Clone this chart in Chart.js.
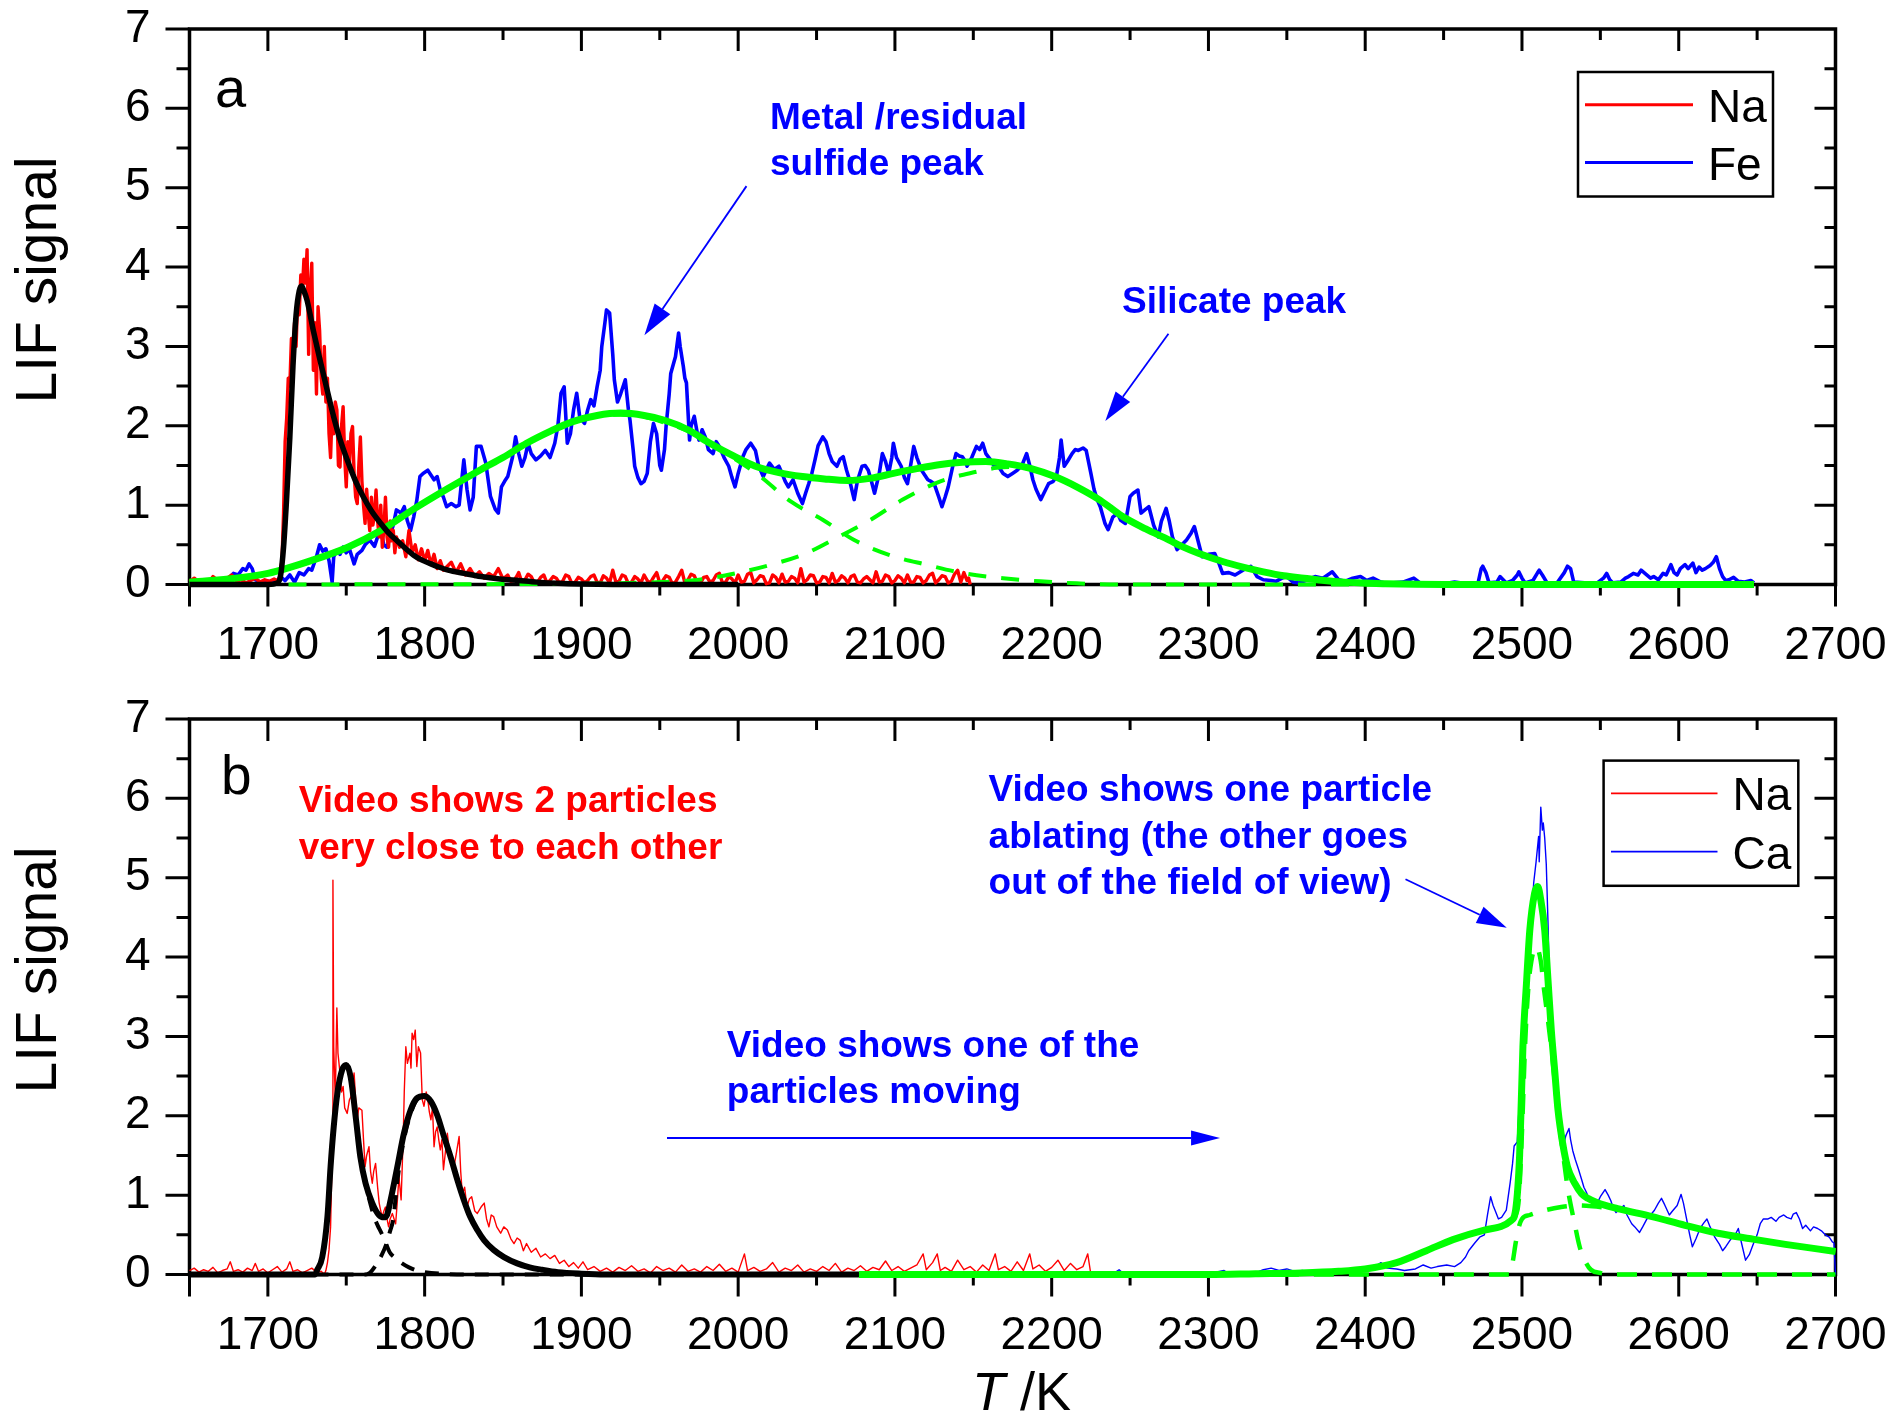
<!DOCTYPE html>
<html>
<head>
<meta charset="utf-8">
<script src="https://cdn.jsdelivr.net/npm/chart.js@4.4.1/dist/chart.umd.min.js"></script>
<style>
  html, body { margin: 0; padding: 0; background: #fff; }
  .panel { position: absolute; left: 0; width: 1895px; }
  #wrapA { top: 0; height: 680px; }
  #wrapB { top: 680px; height: 734px; }
</style>
</head>
<body>
<div class="panel" id="wrapA"><canvas id="chartA"></canvas></div>
<div class="panel" id="wrapB"><canvas id="chartB"></canvas></div>
<script>
// axis ticks
const xTicks = [1700, 1800, 1900, 2000, 2100, 2200, 2300, 2400, 2500, 2600, 2700];
const yTicks = [0, 1, 2, 3, 4, 5, 6, 7];

// ---- panel a: LIF signal vs T, [T, signal] ----
const naA = [[1650,.04],[1653,.08],[1656,.03],[1659,.06],[1662,.02],[1665,.10],[1668,.05],[1671,.03],[1674,.08],[1677,.12],[1680,.04],[1683,.06],[1686,.02],[1689,.05],[1692,.08],[1695,.03],[1698,.06],[1701,.04],[1704,.07],[1706,.05],
  [1707,.05],[1709,.30],[1710,.90],[1711,1.8],[1712,2.1],[1713,2.6],[1714,2.5],[1715,3.1],[1716,2.9],[1717,3.3],[1718,3.0],[1719,3.6],[1720,3.4],[1721,3.9],[1722,3.7],[1723,4.1],[1724,3.8],[1725,4.22],[1726,2.9],[1727,3.7],[1728,4.05],[1729,2.7],[1730,3.3],[1731,2.4],[1732,3.5],[1733,3.2],[1734,2.6],[1735,2.4],[1736,3.0],[1737,2.3],[1738,2.6],[1739,1.9],[1740,1.6],[1741,2.2],[1742,1.9],[1743,2.3],[1744,2.2],[1745,1.5],[1746,1.48],[1747,2.0],[1748,2.24],[1749,1.6],[1750,1.23],[1751,1.8],[1752,1.5],[1753,1.9],[1754,1.99],[1755,1.4],[1756,1.1],[1757,1.02],[1758,1.5],[1759,1.86],[1760,1.3],[1761,1.0],[1762,.77],[1763,1.2],[1764,.9],[1765,.68],[1766,1.1],[1767,.75],[1768,.9],[1769,1.19],[1770,.8],[1771,.6],[1772,1.0],[1773,.47],[1774,.7],[1775,1.1],[1776,.6],[1777,.47],[1778,.8],[1779,.55],[1780,.68],[1781,.4],[1782,.6],[1784,.47],[1786,.55],[1788,.35],[1790,.68],[1792,.4],[1794,.5],[1796,.31],[1798,.45],[1800,.3],[1802,.43],[1804,.25],[1806,.38],[1808,.2],[1810,.3],[1812,.18],[1814,.22],[1817,.28],[1820,.15],[1823,.26],[1826,.12],[1829,.2],[1832,.1],[1835,.16],[1838,.08],[1841,.14],[1844,.1],[1847,.2],[1850,.07],
  [1853,.12],[1855,.04],[1857,.05],[1859,.11],[1860,.15],[1862,.03],[1864,.06],[1866,.13],[1868,.1],[1870,.02],[1872,.03],[1874,.09],[1876,.12],[1878,.02],[1880,.05],[1882,.1],[1884,.08],[1886,.02],[1888,.04],[1890,.12],[1892,.1],[1894,.01],[1896,.03],[1898,.09],[1900,.07],[1902,.02],[1904,.05],[1906,.1],[1908,.12],[1910,.03],[1912,.02],[1914,.11],[1916,.08],[1918,.02],[1920,.18],[1922,.03],[1924,.04],[1926,.12],[1928,.1],[1930,.01],[1932,.03],[1934,.1],[1936,.07],[1938,.02],[1940,.12],[1942,.05],[1944,.02],[1946,.09],[1948,.15],[1950,.02],[1952,.05],[1954,.11],[1956,.09],[1958,.01],[1960,.03],[1962,.1],[1964,.18],[1966,.02],[1968,.06],[1970,.13],[1972,.11],[1974,.02],[1976,.02],[1978,.09],[1980,.1],[1982,.03],[1984,.05],[1986,.12],[1988,.14],[1990,.02],[1992,.03],[1994,.1],[1996,.07],[1998,.02],[2000,.12],[2002,.03],[2004,.04],[2006,.13],[2008,.15],[2010,.02],[2012,.06],[2014,.11],[2016,.1],[2018,.01],[2020,.02],[2022,.12],[2024,.09],[2026,.02],[2028,.13],[2030,.03],[2032,.04],[2034,.1],[2036,.08],[2038,.02],[2040,.2],[2042,.03],[2044,.06],[2046,.12],[2048,.11],[2050,.02],[2052,.03],[2054,.1],[2056,.09],[2058,.02],[2060,.14],[2062,.03],[2064,.05],[2066,.11],[2068,.08],[2070,.02],[2072,.1],[2074,.12],[2076,.03],[2078,.02],[2080,.07],[2082,.1],[2084,.06],[2086,.02],[2088,.16],[2090,.03],[2092,.04],[2094,.12],[2096,.1],[2098,.02],[2100,.05],[2102,.11],[2104,.08],[2106,.02],[2108,.12],[2110,.03],[2112,.03],[2114,.1],[2116,.09],[2118,.02],[2120,.05],[2122,.12],[2124,.14],[2126,.02],[2128,.06],[2130,.11],[2132,.1],[2134,.02],[2136,.04],[2138,.13],[2140,.18],[2142,.03],[2144,.15],[2146,.05],[2147,.08],[2148,0]];

const feA = [[1650,.03],[1655,.04],[1660,.02],[1665,.05],[1670,.03],[1675,.08],[1678,.14],[1681,.12],[1684,.2],[1686,.18],[1688,.26],[1690,.2],[1692,.06],[1695,.03],[1700,.04],[1705,.02],[1708,.1],[1711,.05],[1714,.12],[1717,.03],[1720,.15],[1723,.12],[1726,.2],[1728,.18],[1731,.35],[1733,.5],[1735,.42],[1737,.45],[1739,.3],[1741,.03],[1742,.35],[1744,.43],[1746,.38],[1748,.47],[1750,.4],[1752,.45],[1755,.26],[1757,.38],[1760,.43],[1762,.5],[1765,.56],[1768,.48],[1770,.6],[1772,.68],[1774,.5],[1776,.47],[1778,.62],[1780,.75],[1782,.94],[1785,.9],[1787,.98],[1789,.8],[1791,.68],[1793,.85],[1795,1.06],[1797,1.36],[1799,1.4],[1802,1.44],[1804,1.38],[1806,1.32],[1808,1.36],[1810,1.19],[1812,1.1],[1814,.98],[1817,1.02],[1820,.98],[1822,1.0],[1825,1.57],[1827,1.2],[1829,.94],[1831,1.1],[1833,1.74],[1836,1.74],[1839,1.53],[1842,1.11],[1845,.95],[1847,.9],[1849,1.23],[1851,1.3],[1853,1.36],[1856,1.6],[1858,1.86],[1860,1.65],[1862,1.49],[1864,1.6],[1866,1.78],[1868,1.65],[1871,1.57],[1874,1.62],[1877,1.69],[1880,1.6],[1883,1.78],[1885,2.0],[1887,2.41],[1889,2.49],[1891,1.78],[1893,1.9],[1895,2.2],[1897,2.41],[1899,2.1],[1902,2.03],[1904,2.2],[1906,2.33],[1908,2.25],[1910,2.49],[1912,2.7],[1913,3.0],[1915,3.3],[1916,3.46],[1918,3.42],[1920,2.9],[1921,2.58],[1923,2.3],[1925,2.4],[1928,2.58],[1930,2.2],[1931,2.07],[1933,1.7],[1934,1.49],[1936,1.35],[1938,1.27],[1940,1.3],[1942,1.4],[1944,1.8],[1946,2.03],[1948,1.9],[1950,1.5],[1951,1.44],[1953,1.7],[1954,1.99],[1956,2.4],[1957,2.66],[1959,2.8],[1960,2.87],[1962,3.17],[1963,3.0],[1965,2.75],[1966,2.6],[1967,2.54],[1969,1.82],[1970,2.0],[1972,2.12],[1974,1.9],[1975,1.82],[1977,1.95],[1979,1.86],[1981,1.7],[1984,1.65],[1986,1.8],[1988,1.74],[1991,1.6],[1994,1.49],[1996,1.35],[1998,1.23],[2000,1.4],[2003,1.61],[2005,1.7],[2008,1.78],[2011,1.69],[2013,1.5],[2016,1.36],[2018,1.45],[2020,1.53],[2023,1.45],[2026,1.49],[2028,1.4],[2030,1.3],[2032,1.23],[2035,1.32],[2038,1.15],[2041,1.02],[2043,1.15],[2045,1.27],[2047,1.4],[2049,1.57],[2051,1.75],[2054,1.86],[2056,1.8],[2058,1.65],[2060,1.55],[2063,1.49],[2065,1.58],[2067,1.61],[2069,1.45],[2071,1.32],[2074,1.07],[2076,1.3],[2079,1.49],[2081,1.5],[2083,1.44],[2085,1.3],[2087,1.15],[2090,1.4],[2092,1.65],[2094,1.55],[2096,1.4],[2098,1.6],[2099,1.78],[2101,1.6],[2104,1.49],[2106,1.35],[2108,1.27],[2110,1.5],[2112,1.74],[2114,1.6],[2117,1.44],[2119,1.38],[2121,1.32],[2123,1.3],[2125,1.27],[2128,1.1],[2130,.98],[2132,1.1],[2134,1.23],[2137,1.5],[2139,1.65],[2141,1.62],[2143,1.61],[2145,1.55],[2146,1.49],[2149,1.6],[2152,1.74],[2154,1.7],[2156,1.78],[2158,1.65],[2161,1.57],[2163,1.5],[2166,1.49],[2169,1.4],[2172,1.36],[2175,1.4],[2178,1.44],[2181,1.5],[2184,1.65],[2186,1.5],[2188,1.32],[2190,1.2],[2193,1.07],[2195,1.15],[2198,1.27],[2201,1.3],[2203,1.36],[2205,1.6],[2206,1.82],[2208,1.49],[2210,1.55],[2213,1.65],[2215,1.7],[2217,1.69],[2220,1.72],[2222,1.69],[2225,1.4],[2227,1.2],[2229,1.07],[2231,.98],[2234,.77],[2236,.69],[2239,.85],[2242,.9],[2244,.81],[2247,.77],[2250,1.11],[2252,1.15],[2255,1.19],[2257,.9],[2260,.95],[2262,.98],[2265,.75],[2268,.6],[2270,.8],[2273,.96],[2275,.8],[2277,.6],[2280,.44],[2283,.5],[2286,.56],[2289,.65],[2291,.73],[2294,.5],[2296,.35],[2300,.38],[2304,.39],[2307,.25],[2309,.14],[2313,.15],[2317,.12],[2322,.18],[2327,.23],[2331,.1],[2335,.06],[2340,.05],[2343,.04],[2347,.08],[2350,.1],[2354,.03],[2358,.02],[2363,.06],[2368,.1],[2373,.08],[2379,.16],[2383,.06],[2387,.04],[2392,.08],[2397,.1],[2401,.05],[2405,.08],[2410,.03],[2413,.02],[2418,.02],[2424,.03],[2431,.08],[2435,.02],[2440,.02],[2450,.01],[2457,.03],[2465,.01],[2472,.02],[2474,.2],[2475,.23],[2477,.15],[2479,.02],[2484,.03],[2486,.1],[2488,.06],[2490,.02],[2494,.05],[2497,.12],[2498,.16],[2500,.08],[2502,.02],[2507,.05],[2510,.15],[2511,.18],[2513,.12],[2516,.02],[2522,.01],[2527,.15],[2529,.23],[2531,.2],[2533,.03],[2540,.02],[2548,.02],[2552,.08],[2554,.14],[2556,.06],[2558,.02],[2563,.03],[2566,.08],[2568,.1],[2571,.14],[2574,.12],[2576,.18],[2579,.13],[2582,.08],[2584,.1],[2587,.06],[2590,.14],[2592,.12],[2595,.25],[2597,.15],[2599,.12],[2601,.2],[2604,.25],[2606,.2],[2609,.27],[2611,.15],[2613,.22],[2615,.18],[2617,.2],[2620,.24],[2622,.28],[2624,.35],[2626,.2],[2628,.1],[2630,.05],[2632,.06],[2635,.09],[2638,.04],[2642,.03],[2646,.05],[2648,.02]];

// fits, panel a
const naFitA = [[1650,0],[1700,0],[1706,.02],[1708,.1],[1710,.47],[1712,1.1],[1714,1.85],[1716,2.75],[1718,3.4],[1720,3.7],[1721.5,3.76],[1723,3.7],[1725,3.58],[1729,3.2],[1733,2.85],[1736,2.6],[1742,2.11],[1746,1.83],[1751,1.55],[1756,1.3],[1761,1.1],[1766,.93],[1772,.77],[1777,.65],[1783,.54],[1788,.45],[1793,.37],[1798,.31],[1804,.26],[1809,.22],[1815,.18],[1825,.14],[1836,.1],[1848,.07],[1860,.05],[1872,.03],[1885,.015],[1900,.005],[1920,0],[2000,0]];
const feFitA = [[1650,.03],[1675,.07],[1700,.14],[1729,.31],[1751,.47],[1772,.68],[1793,.95],[1814,1.2],[1836,1.45],[1850,1.6],[1865,1.78],[1880,1.93],[1894,2.05],[1910,2.13],[1925,2.16],[1940,2.13],[1953,2.07],[1968,1.95],[1982,1.78],[1997,1.62],[2011,1.49],[2026,1.41],[2041,1.36],[2055,1.33],[2070,1.31],[2085,1.34],[2099,1.4],[2114,1.46],[2128,1.51],[2143,1.54],[2158,1.55],[2172,1.52],[2187,1.46],[2202,1.36],[2216,1.23],[2231,1.06],[2245,.86],[2260,.7],[2275,.56],[2283,.48],[2294,.39],[2309,.29],[2322,.22],[2335,.16],[2348,.11],[2361,.08],[2374,.05],[2387,.03],[2400,.02],[2413,.01],[2450,0],[2648,0]];
const metalPeakA = [[1650,.03],[1675,.07],[1700,.14],[1729,.31],[1751,.47],[1772,.68],[1793,.95],[1814,1.2],[1836,1.45],[1850,1.6],[1865,1.78],[1880,1.93],[1894,2.04],[1910,2.12],[1925,2.14],[1940,2.11],[1953,2.04],[1969.6,1.92],[1992.4,1.65],[2012.9,1.38],[2034,1.04],[2054.4,.81],[2074,.56],[2096.8,.37],[2120,.25],[2144.4,.14],[2169,.08],[2192.7,.04],[2216,.015],[2242,0],[2648,0]];
const silicatePeakA = [[1650,0],[1850,.005],[1900,.01],[1950,.03],[1975,.06],[1998,.14],[2021,.25],[2043,.39],[2064,.6],[2084,.81],[2105,1.07],[2129,1.3],[2152,1.42],[2165,1.47],[2178,1.48],[2187,1.45],[2202,1.36],[2216,1.23],[2231,1.06],[2245,.86],[2260,.7],[2275,.56],[2283,.48],[2294,.39],[2309,.29],[2322,.22],[2335,.16],[2348,.11],[2361,.08],[2374,.05],[2387,.03],[2400,.02],[2413,.01],[2450,0],[2648,0]];

// ---- panel b ----
const naB = [[1650,.05],[1653,.08],[1656,.03],[1659,.06],[1662,.04],[1665,.09],[1668,.02],[1671,.05],[1674,.07],[1676,.16],[1678,.04],[1681,.06],[1684,.03],[1687,.08],[1690,.05],[1692,.14],[1694,.04],[1697,.07],[1700,.02],[1703,.06],[1706,.1],[1709,.03],[1712,.07],[1714,.16],[1716,.04],[1719,.06],[1722,.02],[1725,.05],[1728,.08],[1731,.03],[1734,.04],[1736,0],[1737,.05],[1738,.15],[1739,.31],[1740,.6],[1741,1.5],[1741.5,4.97],[1742,2.87],[1743,2.2],[1744,3.36],[1744.7,2.79],[1746,2.54],[1747,2.3],[1748,2.37],[1749,2.1],[1750.6,2.03],[1752,2.2],[1753,2.24],[1754,2.4],[1755,2.54],[1756,2.2],[1757,1.95],[1758,2.1],[1760,2.07],[1761,1.7],[1762,1.36],[1763,1.5],[1764.5,1.61],[1765.5,1.3],[1766.6,1.15],[1767.5,1.3],[1768.7,1.4],[1770,1.1],[1771,.9],[1772,.8],[1773,.73],[1774,.8],[1775,.85],[1776,.7],[1777,.6],[1778,.7],[1779.4,.77],[1780.5,.7],[1781.5,.64],[1782.5,.9],[1783.6,1.23],[1785,.94],[1786.4,1.78],[1787,2.3],[1788,2.87],[1789,2.66],[1790.6,2.79],[1791.3,2.6],[1792,3.04],[1793,2.96],[1794,3.08],[1795,2.62],[1796,2.87],[1797.4,2.79],[1798.5,2.2],[1799.6,2.12],[1801,2.3],[1802,2.2],[1803,2.05],[1804,1.95],[1805,2.1],[1806,1.61],[1807,1.8],[1808,1.86],[1809,1.7],[1810,1.57],[1811,1.7],[1812,1.32],[1813,1.5],[1814.5,1.78],[1815.5,1.6],[1816.6,1.53],[1818,1.45],[1818.7,1.36],[1820,1.5],[1822,1.74],[1823,1.3],[1824,1.02],[1825.5,1.1],[1827,.85],[1828.5,.95],[1830,.98],[1832,.8],[1833.6,.77],[1836,.85],[1838,.9],[1839.5,.7],[1841,.6],[1842.5,.75],[1844,.73],[1846,.6],[1848.5,.52],[1850.5,.6],[1852.8,.56],[1855,.45],[1857,.39],[1859,.46],[1861,.43],[1863,.3],[1865,.39],[1868,.28],[1871,.33],[1874,.22],[1877,.26],[1880,.2],[1883,.24],[1886,.14],[1889,.18],[1892,.1],[1895,.15],[1898,.08],[1901,.16],[1904,.06],
  [1908,.1],[1912,.04],[1916,.08],[1920,.03],[1924,.09],[1928,.05],[1932,.11],[1936,.04],[1940,.07],[1944,.02],[1948,.1],[1952,.05],[1956,.08],[1960,.03],[1964,.12],[1968,.04],[1972,.07],[1976,.03],[1980,.1],[1984,.05],[1988,.13],[1992,.04],[1996,.08],[2000,.03],[2004,.26],[2006,.05],[2010,.09],[2014,.04],[2018,.07],[2022,.15],[2026,.03],[2030,.08],[2034,.05],[2038,.12],[2042,.03],[2046,.07],[2050,.04],[2054,.1],[2058,.05],[2062,.14],[2066,.03],[2070,.08],[2074,.05],[2078,.11],[2082,.04],[2086,.09],[2090,.06],[2094,.17],[2098,.05],[2102,.1],[2106,.04],[2110,.08],[2114,.12],[2118,.26],[2120,.06],[2124,.15],[2127,.26],[2129,.05],[2132,.09],[2136,.04],[2140,.18],[2144,.06],[2148,.1],[2152,.03],[2156,.12],[2160,.05],[2164,.26],[2166,.06],[2170,.1],[2174,.04],[2178,.16],[2182,.05],[2186,.26],[2188,.07],[2192,.12],[2196,.04],[2200,.09],[2204,.18],[2208,.05],[2212,.14],[2216,.06],[2220,.1],[2223,.26],[2225,0]];

const caB = [[2240,.02],[2243,.06],[2246,.01],[2260,.01],[2280,.02],[2300,.01],[2310,.05],[2313,.01],[2330,.02],[2335,.06],[2340,.08],[2345,.05],[2350,.07],[2355,.04],[2360,.05],[2365,.03],[2370,.06],[2375,.04],[2380,.05],[2385,.03],[2390,.05],[2395,.04],[2400,.05],[2405,.08],[2410,.15],[2414,.08],[2420,.07],[2425,.05],[2432,.07],[2437,.12],[2442,.08],[2446,.1],[2452,.12],[2457,.1],[2461,.15],[2464,.22],[2466,.3],[2470,.4],[2473,.47],[2476,.5],[2478,.75],[2480,.98],[2481.6,.87],[2483,.8],[2485,.7],[2487,.72],[2490,.81],[2492.5,1.16],[2494,1.4],[2495,1.62],[2497,1.67],[2498.5,2.25],[2499.8,2.07],[2501,2.8],[2502,3.22],[2503.5,3.6],[2504.6,4.03],[2506,4.5],[2507.5,4.94],[2509,5.2],[2510.6,5.52],[2511,5.2],[2512,5.89],[2513,5.6],[2513.6,5.69],[2514.5,5.5],[2515.5,5.17],[2516.7,4.37],[2518,3.22],[2519,2.76],[2520,2.9],[2521.5,2.36],[2523,2.0],[2524,1.73],[2525,1.9],[2526.4,1.62],[2528,1.75],[2530,1.84],[2531,1.7],[2532.4,1.56],[2534,1.45],[2536,1.33],[2538,1.2],[2539.5,1.1],[2541,1.04],[2543,.95],[2545.8,.87],[2548,.9],[2550,.98],[2553,1.07],[2555,1.0],[2556.7,.93],[2558,.85],[2560,.78],[2562,.82],[2565,.87],[2567,.75],[2570,.64],[2572,.6],[2575,.53],[2577,.6],[2579.7,.7],[2582,.75],[2584.5,.81],[2587,.9],[2589,.96],[2591,.88],[2594,.75],[2596,.8],[2599,.87],[2601.5,1.01],[2603,.9],[2605,.7],[2607,.5],[2608.7,.35],[2611,.45],[2613.6,.58],[2616,.65],[2618,.7],[2620,.6],[2623,.47],[2626,.38],[2628,.3],[2630,.35],[2633,.44],[2636,.5],[2638,.58],[2640,.4],[2642.6,.18],[2645,.25],[2647.5,.38],[2650,.5],[2652,.64],[2654,.7],[2657,.7],[2659,.72],[2662,.67],[2664,.72],[2667,.75],[2669,.72],[2671.7,.7],[2673,.76],[2675,.78],[2677,.7],[2679,.58],[2681,.62],[2684,.55],[2686,.6],[2688.6,.58],[2691,.55],[2693.5,.5],[2696,.47],[2698,.41],[2699,.4],[2700,0]];

// fits, panel b
const naFitB = [[1650,0],[1730,0],[1731.5,.06],[1734.7,.22],[1738,.73],[1740,1.36],[1742,1.86],[1744.3,2.28],[1747.4,2.58],[1750,2.64],[1752.8,2.49],[1756,1.99],[1759,1.48],[1762.3,1.15],[1766.6,.9],[1770.8,.75],[1774,.72],[1776,.75],[1778.3,.94],[1782.6,1.36],[1786.8,1.78],[1791,2.07],[1795,2.22],[1800,2.25],[1804,2.18],[1808,2.01],[1812,1.76],[1816.6,1.48],[1820.9,1.19],[1825,.94],[1829,.73],[1833.6,.56],[1838,.43],[1844,.31],[1850.6,.22],[1859,.14],[1867,.09],[1875,.06],[1885,.03],[1900,.01],[1915,0],[2077,0]];
const naPeak1B = [[1650,0],[1730,0],[1731.5,.06],[1734.7,.22],[1738,.73],[1740,1.36],[1742,1.86],[1744.3,2.28],[1747.4,2.58],[1750,2.64],[1752.8,2.49],[1756,1.99],[1759,1.48],[1762.3,1.13],[1765,.92],[1768,.71],[1770,.62],[1772.5,.52],[1775.5,.38],[1777.7,.28],[1781,.21],[1785.6,.14],[1790,.09],[1795,.05],[1800,.03],[1810,.01],[1825,0],[2077,0]];
const naPeak2B = [[1650,0],[1762,0],[1764,.01],[1766,.04],[1769,.12],[1772.5,.24],[1775.5,.38],[1778,.55],[1780,.7],[1782.6,1.18],[1786.8,1.7],[1791,2.02],[1795,2.2],[1800,2.25],[1804,2.18],[1808,2.01],[1812,1.76],[1816.6,1.48],[1820.9,1.19],[1825,.94],[1829,.73],[1833.6,.56],[1838,.43],[1844,.31],[1850.6,.22],[1859,.14],[1867,.09],[1875,.06],[1885,.03],[1900,.01],[1915,0],[2077,0]];
const caFitB = [[2077,0],[2300,0],[2330,.01],[2359,.02],[2383,.04],[2400,.07],[2420,.15],[2439,.3],[2456,.44],[2476,.56],[2493,.68],[2496,.82],[2498.5,1.5],[2500.6,2.87],[2503,3.71],[2505,4.34],[2508,4.8],[2510,4.89],[2512,4.72],[2514.5,4.34],[2516.6,3.71],[2518.7,3.08],[2521,2.54],[2523,2.07],[2526,1.65],[2529,1.36],[2533.6,1.15],[2538,1.02],[2542,.96],[2548.5,.9],[2561,.83],[2583,.73],[2604,.62],[2625,.52],[2646,.45],[2668,.38],[2700,.29]];
const caNarrowB = [[2077,0],[2300,0],[2330,.01],[2359,.02],[2383,.04],[2400,.07],[2420,.15],[2439,.3],[2456,.44],[2476,.56],[2493,.68],[2496,.75],[2498,.95],[2500,1.8],[2502,2.9],[2504,3.6],[2506,3.95],[2509,4.13],[2512,3.95],[2514,3.6],[2516.6,3.2],[2519,2.8],[2523,2.03],[2526,1.55],[2529.4,1.06],[2533.6,.64],[2536.8,.35],[2540,.18],[2544,.06],[2550,.02],[2560,0],[2700,0]];
const caBroadB = [[2077,0],[2492,0],[2494,.15],[2496,.4],[2498,.6],[2500,.7],[2505,.75],[2515,.81],[2525,.85],[2535,.87],[2545,.86],[2555,.84],[2561,.83],[2583,.73],[2604,.62],[2625,.52],[2646,.45],[2668,.38],[2700,.29]];

const RED = '#ff0000', BLUE = '#0000ff', GREEN = '#00ff00', BLACK = '#000000';
const FONT = "'Liberation Sans', Arial, sans-serif";
Chart.defaults.font.family = FONT;
Chart.defaults.color = '#000';

const pts = arr => arr.map(([x, y]) => ({ x, y }));

function dataLine(label, data, color, width, order) {
    return { label, data: pts(data), borderColor: color, borderWidth: width, pointRadius: 0,
        fill: false, tension: 0, order, clip: 12, borderJoinStyle: 'round' };
}
function fitLine(data, color, width, order, dash) {
    return { label: '', data: pts(data), borderColor: color, borderWidth: width, pointRadius: 0,
        fill: false, cubicInterpolationMode: 'monotone', borderDash: dash || [], order, clip: 12 };
}

// frame and tick marks (in on top/right, out on bottom/left)
const frameTicks = {
    id: 'frameTicks',
    beforeDatasetsDraw(chart) {
        const { ctx, chartArea: a, scales: { x, y } } = chart;
        ctx.save();
        ctx.strokeStyle = '#000';
        ctx.lineWidth = 3;
        ctx.beginPath();
        for (let t = 1700; t < 2700; t += 50) {
            const px = x.getPixelForValue(t);
            const len = t % 100 === 0 ? 22 : 11;
            ctx.moveTo(px, a.bottom); ctx.lineTo(px, a.bottom + len);
            ctx.moveTo(px, a.top); ctx.lineTo(px, a.top + len);
        }
        for (let v = 0.5; v < 7; v += 0.5) {
            const py = y.getPixelForValue(v);
            const major = Number.isInteger(v);
            ctx.moveTo(a.left, py); ctx.lineTo(a.left - (major ? 24 : 13), py);
            ctx.moveTo(a.right, py); ctx.lineTo(a.right - (major ? 21 : 11), py);
        }
        ctx.moveTo(a.left, a.bottom); ctx.lineTo(a.left - 24, a.bottom);
        ctx.moveTo(a.left, a.top); ctx.lineTo(a.left - 24, a.top);
        ctx.moveTo(a.left, a.bottom); ctx.lineTo(a.left, a.bottom + 22);
        ctx.moveTo(a.right, a.bottom); ctx.lineTo(a.right, a.bottom + 22);
        ctx.stroke();
        ctx.lineWidth = 3.5;
        ctx.strokeRect(a.left, a.top, a.right - a.left, a.bottom - a.top);
        ctx.restore();
    }
};

// texts, arrows and the boxed legend
const notes = {
    id: 'notes',
    afterDatasetsDraw(chart, args, o) {
        const { ctx, scales: { x, y } } = chart;
        ctx.save();
        for (const t of o.texts || []) {
            ctx.fillStyle = t.color || '#000';
            if (t.rotate) {
                ctx.save();
                ctx.translate(t.x, t.y);
                ctx.rotate(-Math.PI / 2);
                ctx.textAlign = 'center';
                ctx.textBaseline = 'middle';
                ctx.font = t.font;
                ctx.fillText(t.text, 0, 0);
                ctx.restore();
                continue;
            }
            ctx.textAlign = 'left';
            ctx.textBaseline = 'alphabetic';
            let cx = t.x;
            for (const [s, f] of t.parts) {
                ctx.font = f;
                ctx.fillText(s, cx, t.y);
                cx += ctx.measureText(s).width;
            }
        }
        for (const ar of o.arrows || []) {
            const x0 = x.getPixelForValue(ar.from[0]), y0 = y.getPixelForValue(ar.from[1]);
            const x1 = x.getPixelForValue(ar.to[0]), y1 = y.getPixelForValue(ar.to[1]);
            const ang = Math.atan2(y1 - y0, x1 - x0);
            const bx = x1 - ar.head * Math.cos(ang), by = y1 - ar.head * Math.sin(ang);
            ctx.strokeStyle = ar.color;
            ctx.fillStyle = ar.color;
            ctx.lineWidth = ar.width;
            ctx.beginPath(); ctx.moveTo(x0, y0); ctx.lineTo(bx, by); ctx.stroke();
            ctx.beginPath();
            ctx.moveTo(x1, y1);
            ctx.lineTo(bx + ar.half * Math.sin(ang), by - ar.half * Math.cos(ang));
            ctx.lineTo(bx - ar.half * Math.sin(ang), by + ar.half * Math.cos(ang));
            ctx.closePath();
            ctx.fill();
        }
        const lg = o.legend;
        if (lg) {
            ctx.lineWidth = lg.boxWidth;
            ctx.strokeStyle = '#000';
            ctx.strokeRect(lg.box[0], lg.box[1], lg.box[2], lg.box[3]);
            lg.items.forEach((idx, i) => {
                const ds = chart.data.datasets[idx];
                ctx.strokeStyle = ds.borderColor;
                ctx.lineWidth = lg.lineWidth;
                ctx.beginPath();
                ctx.moveTo(lg.line[0], lg.rows[i]);
                ctx.lineTo(lg.line[1], lg.rows[i]);
                ctx.stroke();
                ctx.fillStyle = '#000';
                ctx.font = lg.font;
                ctx.textAlign = 'left';
                ctx.textBaseline = 'alphabetic';
                ctx.fillText(ds.label, lg.textX, lg.rows[i] + lg.textDy);
            });
        }
        ctx.restore();
    }
};

function makeChart(id, datasets, cfg) {
    return new Chart(document.getElementById(id), {
        type: 'line',
        data: { datasets },
        options: {
            responsive: true,
            maintainAspectRatio: false,
            animation: false,
            devicePixelRatio: 1,
            layout: { padding: { left: 0, top: cfg.top, right: 59.5, bottom: 0 } },
            plugins: { legend: { display: false }, tooltip: { enabled: false }, notes: cfg.notes },
            scales: {
                x: {
                    type: 'linear', min: 1650, max: 2700,
                    afterBuildTicks: s => { s.ticks = xTicks.map(v => ({ value: v })); },
                    afterFit: s => { s.height = cfg.xh; s.paddingLeft = 0; s.paddingRight = 0; },
                    grid: { display: false, drawTicks: false }, border: { display: false },
                    ticks: { font: { size: 46 }, color: '#000', padding: 34, maxRotation: 0, autoSkip: false,
                        callback: v => String(v) }
                },
                y: {
                    min: 0, max: 7,
                    afterBuildTicks: s => { s.ticks = yTicks.map(v => ({ value: v })); },
                    afterFit: s => { s.width = 189.5; s.paddingTop = 0; s.paddingBottom = 0; },
                    grid: { display: false, drawTicks: false }, border: { display: false },
                    ticks: { font: { size: 46 }, color: '#000', padding: 39, callback: v => String(v) }
                }
            }
        },
        plugins: [frameTicks, notes]
    });
}

const B37 = `bold 37px ${FONT}`;

makeChart('chartA', [
    fitLine(naFitA, BLACK, 5.5, 0),
    fitLine(feFitA, GREEN, 7, 1),
    fitLine(metalPeakA, GREEN, 4, 2, [18, 15]),
    fitLine(silicatePeakA, GREEN, 4, 2, [18, 15]),
    dataLine('Na', naA, RED, 3.4, 3),
    dataLine('Fe', feA, BLUE, 3.6, 4)
], {
    top: 29, xh: 95.5,
    notes: {
        texts: [
            { parts: [['a', `56px ${FONT}`]], x: 215, y: 107 },
            { parts: [['Metal /residual', B37]], x: 770, y: 128.5, color: BLUE },
            { parts: [['sulfide peak', B37]], x: 770, y: 175, color: BLUE },
            { parts: [['Silicate peak', B37]], x: 1122, y: 312.5, color: BLUE },
            { text: 'LIF signal', rotate: true, x: 40, y: 280, font: `57px ${FONT}` }
        ],
        arrows: [
            { from: [2005.3, 5.02], to: [1940.2, 3.14], head: 32, half: 9.5, width: 1.8, color: BLUE },
            { from: [2274.5, 3.16], to: [2234.2, 2.06], head: 30, half: 9, width: 1.8, color: BLUE }
        ],
        legend: { box: [1578, 72, 195, 124.5], boxWidth: 2.5, items: [4, 5], rows: [104.8, 162.5],
            line: [1585, 1693], lineWidth: 3, textX: 1708, textDy: 17.5, font: `46px ${FONT}` }
    }
});

makeChart('chartB', [
    fitLine(naFitB, BLACK, 6, 0),
    fitLine(naPeak1B, BLACK, 4, 1, [14, 11]),
    fitLine(naPeak2B, BLACK, 4, 1, [14, 11]),
    fitLine(caFitB, GREEN, 7, 0),
    fitLine(caNarrowB, GREEN, 4.5, 1, [20, 15]),
    fitLine(caBroadB, GREEN, 4.5, 1, [20, 15]),
    dataLine('Na', naB, RED, 1.4, 3),
    dataLine('Ca', caB, BLUE, 1.4, 4)
], {
    top: 39, xh: 139.5,
    notes: {
        texts: [
            { parts: [['b', `55px ${FONT}`]], x: 221, y: 113.5 },
            { parts: [['Video shows 2 particles', B37]], x: 298.7, y: 131.6, color: RED },
            { parts: [['very close to each other', B37]], x: 298.7, y: 179.4, color: RED },
            { parts: [['Video shows one particle', B37]], x: 988.6, y: 121, color: BLUE },
            { parts: [['ablating (the other goes', B37]], x: 988.6, y: 167.5, color: BLUE },
            { parts: [['out of the field of view)', B37]], x: 988.6, y: 214, color: BLUE },
            { parts: [['Video shows one of the', B37]], x: 726.8, y: 376.7, color: BLUE },
            { parts: [['particles moving', B37]], x: 726.8, y: 423, color: BLUE },
            { text: 'LIF signal', rotate: true, x: 40, y: 290, font: `57px ${FONT}` },
            { parts: [['T', `italic 54px ${FONT}`], [' /K', `54px ${FONT}`]], x: 972, y: 730 }
        ],
        arrows: [
            { from: [2425.7, 4.98], to: [2490.3, 4.37], head: 30, half: 9, width: 1.8, color: BLUE },
            { from: [1954.6, 1.72], to: [2307.4, 1.72], head: 29, half: 7.5, width: 2, color: BLUE }
        ],
        legend: { box: [1603.6, 80.6, 194.7, 125.2], boxWidth: 2.5, items: [6, 7], rows: [113.4, 171.6],
            line: [1611, 1717.5], lineWidth: 1.6, textX: 1732.6, textDy: 17, font: `46px ${FONT}` }
    }
});
</script>
</body>
</html>
